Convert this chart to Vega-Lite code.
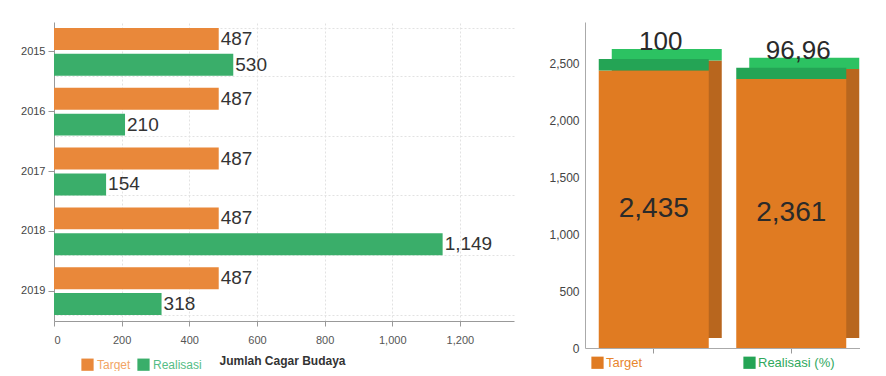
{
  "$schema": "https://vega.github.io/schema/vega-lite/v6.json",
  "background": "white",
  "padding": {"left": 0, "top": 22, "right": 0, "bottom": 0},
  "spacing": 21,
  "resolve": {"scale": {"color": "independent"}, "legend": {"color": "independent"}},
  "config": {
    "font": "Liberation Sans",
    "view": {"stroke": null},
    "axis": {"labelFont": "Liberation Sans", "labelColor": "#555555", "labelFontSize": 11, "domainColor": "#999999", "tickColor": "#999999", "gridColor": "#e2e2e2", "gridDash": [2, 2]},
    "legend": {"labelFont": "Liberation Sans", "labelFontSize": 12, "symbolType": "square", "symbolSize": 150, "symbolStrokeWidth": 0}
  },
  "datasets": {
    "left": [
      {"year": "2015", "series": "Target", "value": 487},
      {"year": "2015", "series": "Realisasi", "value": 530},
      {"year": "2016", "series": "Target", "value": 487},
      {"year": "2016", "series": "Realisasi", "value": 210},
      {"year": "2017", "series": "Target", "value": 487},
      {"year": "2017", "series": "Realisasi", "value": 154},
      {"year": "2018", "series": "Target", "value": 487},
      {"year": "2018", "series": "Realisasi", "value": 1149},
      {"year": "2019", "series": "Target", "value": 487},
      {"year": "2019", "series": "Realisasi", "value": 318}
    ],
    "right": [
      {"bar": "A", "series": "Target", "value": 2435, "label": "2,435"},
      {"bar": "A", "series": "Realisasi (%)", "value": 100, "label": "100"},
      {"bar": "B", "series": "Target", "value": 2361, "label": "2,361"},
      {"bar": "B", "series": "Realisasi (%)", "value": 96.96, "label": "96,96"}
    ]
  },
  "hconcat": [
    {
      "width": 460,
      "height": 299,
      "data": {"name": "left"},
      "encoding": {
        "y": {"field": "year", "type": "nominal", "title": null,
              "scale": {"paddingInner": 0.2, "paddingOuter": 0.1}},
        "yOffset": {"field": "series", "type": "nominal", "sort": ["Target", "Realisasi"], "scale": {"paddingInner": 0.15}},
        "x": {"field": "value", "type": "quantitative", "scale": {"domain": [0, 1360], "nice": false}}
      },
      "layer": [
        {
          "mark": {"type": "bar"},
          "encoding": {
            "y": {"field": "year", "type": "nominal", "title": null,
                  "axis": {"labelColor": "#444444", "tickSize": 6, "labelPadding": 3, "grid": false, "minExtent": 54, "maxExtent": 54}},
            "x": {"field": "value", "type": "quantitative",
                  "axis": {"values": [0, 200, 400, 600, 800, 1000, 1200], "format": ",d", "tickSize": 5, "labelPadding": 8, "title": "Jumlah Cagar Budaya", "titleFontSize": 12, "titleFontWeight": "bold", "titleColor": "#333333", "titlePadding": 10, "titleX": 228}},
            "color": {"field": "series", "type": "nominal",
                      "scale": {"domain": ["Target", "Realisasi"], "range": ["#e9883a", "#3aae6a"]},
                      "legend": {"orient": "none", "legendX": 27, "legendY": 336, "direction": "horizontal", "title": null, "columnPadding": 6, "labelOffset": 3,
                                 "encode": {"labels": {"update": {"fill": {"signal": "datum.value === 'Target' ? '#f2a565' : '#55bd85'"}}}}}}
          }
        },
        {
          "mark": {"type": "text", "align": "left", "baseline": "middle", "dx": 2, "fontSize": 19, "color": "#333333"},
          "encoding": {
            "y": {"field": "year", "type": "nominal", "axis": {"labels": false, "ticks": false, "domain": false, "grid": true, "tickBand": "extent", "minExtent": 0, "maxExtent": 0}},
            "text": {"field": "value", "type": "quantitative", "format": ",d"}
          }
        }
      ],
      "resolve": {"axis": {"y": "independent"}}
    },
    {
      "width": 275,
      "height": 326,
      "data": {"name": "right"},
      "encoding": {
        "x": {"field": "bar", "type": "nominal", "title": null,
              "scale": {"paddingInner": 0.2, "paddingOuter": 0.1},
              "axis": {"labels": false, "tickSize": 5, "domainColor": "#aaaaaa"}},
        "order": {"field": "series", "sort": "descending"}
      },
      "layer": [
        {
          "mark": {"type": "bar", "xOffset": 13, "yOffset": -10, "y2Offset": -10},
          "encoding": {
            "y": {"field": "value", "type": "quantitative", "stack": "zero", "scale": {"domain": [0, 2860], "nice": false}, "axis": null},
            "color": {"field": "series", "type": "nominal", "legend": null,
                      "scale": {"domain": ["Target", "Realisasi (%)"], "range": ["#b8661e", "#2cc262"]}}
          }
        },
        {
          "mark": {"type": "bar"},
          "encoding": {
            "y": {"field": "value", "type": "quantitative", "stack": "zero", "title": null,
                  "scale": {"domain": [0, 2860], "nice": false},
                  "axis": {"values": [0, 500, 1000, 1500, 2000, 2500], "format": ",d", "labelFontSize": 12, "labelColor": "#444444", "domainColor": "#aaaaaa", "tickSize": 0, "labelPadding": 6, "minExtent": 50, "maxExtent": 50, "gridColor": "#e6e6e6"}},
            "color": {"field": "series", "type": "nominal",
                      "scale": {"domain": ["Target", "Realisasi (%)"], "range": ["#e07b22", "#24a455"]},
                      "legend": {"orient": "none", "legendX": 6, "legendY": 334, "direction": "horizontal", "title": null, "columnPadding": 100, "labelOffset": 2, "labelFontSize": 13,
                                 "encode": {"labels": {"update": {"fill": {"signal": "datum.value === 'Target' ? '#e8862e' : '#2fa85e'"}}}}}}
          }
        },
        {
          "mark": {"type": "text", "baseline": "alphabetic", "fontSize": 26, "color": "#2a2a2a", "dy": -9, "dx": 7},
          "encoding": {
            "y": {"field": "value", "type": "quantitative", "stack": "zero", "scale": {"domain": [0, 2860], "nice": false}, "axis": null},
            "text": {"condition": {"test": "datum.series !== 'Target'", "field": "label"}, "value": ""}
          }
        },
        {
          "transform": [{"filter": "datum.series === 'Target'"}],
          "mark": {"type": "text", "baseline": "middle", "fontSize": 28, "color": "#2a2a2a"},
          "encoding": {
            "y": {"field": "value", "type": "quantitative", "stack": null, "scale": {"domain": [0, 5720], "nice": false}, "axis": null},
            "text": {"field": "label"}
          }
        }
      ],
      "resolve": {"scale": {"color": "independent", "y": "independent"}, "axis": {"y": "independent"}, "legend": {"color": "independent"}}
    }
  ]
}
